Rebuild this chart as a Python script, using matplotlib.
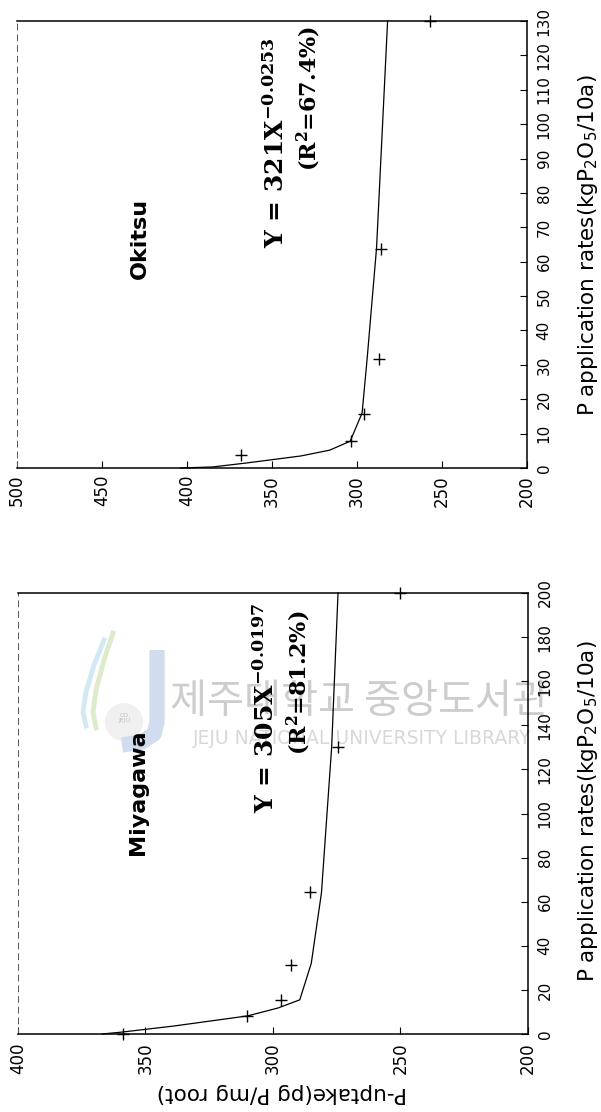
import matplotlib
matplotlib.use("Agg")
import matplotlib.pyplot as plt
from matplotlib.patches import Circle

plt.rcParams['font.family'] = ['DejaVu Sans']

# ---- Okitsu (upper panel) ----
oki_rate = [3.8, 7.8, 15.8, 31.8, 63.7, 130]
oki_uptake = [368, 303.5, 296, 287, 286, 257]
oki_fit_rate = [0, 0.3, 1.4, 3.5, 5.2, 7.8, 16, 32, 64, 130]
oki_fit_uptake = [404, 385, 366, 333, 316, 304, 297, 294, 288.5, 282]
oki_rate_ticks = list(range(0, 131, 10))
oki_uptake_ticks = [500, 450, 400, 350, 300, 250, 200]

# ---- Miyagawa (lower panel) ----
miy_rate = [0, 8.2, 15.4, 31.3, 64.4, 130, 200]
miy_uptake = [359, 310, 297, 293, 285.5, 274.5, 250]
miy_fit_rate = [0, 0.9, 3.6, 8.2, 11.8, 15.5, 32, 64, 130, 200]
miy_fit_uptake = [367, 359, 339, 310, 298, 289.5, 285, 281, 277, 274.5]
miy_rate_ticks = list(range(0, 201, 20))
miy_uptake_ticks = [400, 350, 300, 250, 200]

W, H = 601, 1112
fig = plt.figure(figsize=(W / 100, H / 100), dpi=100)
fig.patch.set_facecolor('white')


def px_axes(x0, y0, x1, y1, **kw):
    return fig.add_axes([x0 / W, 1 - y1 / H, (x1 - x0) / W, (y1 - y0) / H], **kw)


# background layer in pixel coordinates (library watermark)
bg = fig.add_axes([0, 0, 1, 1], zorder=-1)
bg.set_xlim(0, W)
bg.set_ylim(H, 0)
bg.axis('off')
bg.text(360, 702, '제주대학교 중앙도서관', fontsize=29, color='#cdcdcd',
        family=['Noto Sans CJK KR'], ha='center', va='center')
bg.text(362, 738, 'JEJU NATIONAL UNIVERSITY LIBRARY', fontsize=13.5, color='#d8d8d8',
        family=['DejaVu Sans'], ha='center', va='center')
bg.add_patch(Circle((124, 722), 19, color='#f0f0f0', lw=0))
bg.plot([157, 157, 154, 142, 122], [650, 722, 734, 742, 745], color='#cdd9ee',
        lw=11, solid_capstyle='butt', solid_joinstyle='round', alpha=0.9)
bg.plot([113, 104, 96, 93, 96], [633, 660, 690, 712, 728], color='#dcebcc', lw=3.5)
bg.plot([104, 94, 86, 83, 86], [640, 665, 692, 712, 726], color='#d3e8f3', lw=3.5)
bg.text(124, 718, 'CO\nJEJU', fontsize=4.5, color='#c0c0c0', ha='center', va='center',
        linespacing=1.1)


def style_axes(ax, xmax, ymax, rate_ticks, uptake_ticks, xpad):
    ax.set_facecolor('none')
    ax.set_xlim(xmax, 200)
    ax.set_ylim(0, ymax)
    ax.yaxis.tick_right()
    ax.set_yticks(rate_ticks, [str(t) for t in rate_ticks], rotation=90,
                  ha='left', va='center', fontsize=11)
    ax.set_xticks(uptake_ticks, [str(t) for t in uptake_ticks], rotation=90,
                  ha='center', va='top', fontsize=12)
    ax.tick_params(axis='y', direction='in', length=5, width=0.8, pad=7,
                   left=False, right=True)
    ax.tick_params(axis='x', direction='in', length=5, width=0.8, pad=xpad,
                   top=False, bottom=True)
    for side in ('top', 'right', 'bottom'):
        ax.spines[side].set_linewidth(1.1)
    ax.spines['left'].set_linewidth(0.7)
    ax.spines['left'].set_color('#555555')
    ax.spines['left'].set_linestyle((0, (6, 5)))


def draw_panel(ax, fit_rate, fit_uptake, rate, uptake):
    ax.plot(fit_uptake, fit_rate, color='black', lw=0.9, clip_on=False)
    ax.plot(uptake, rate, ls='none', marker='+', ms=9, mew=1.0, color='black',
            clip_on=False)


rate_label = r'P application rates(kgP$_{\mathregular{2}}$O$_{\mathregular{5}}$/10a)'

# upper panel: Okitsu
ax1 = px_axes(17, 21, 527, 468)
style_axes(ax1, 500, 130, oki_rate_ticks, oki_uptake_ticks, 5)
draw_panel(ax1, oki_fit_rate, oki_fit_uptake, oki_rate, oki_uptake)

# lower panel: Miyagawa
ax2 = px_axes(18, 593, 528, 1034)
style_axes(ax2, 400, 200, miy_rate_ticks, miy_uptake_ticks, 6)
draw_panel(ax2, miy_fit_rate, miy_fit_uptake, miy_rate, miy_uptake)

# labels and annotations in pixel coordinates
txt = dict(transform=bg.transData, ha='center', va='center')
serif = dict(family=['DejaVu Serif'], fontweight='bold', math_fontfamily='dejavuserif')

bg.text(588, 245, rate_label, rotation=90, fontsize=15.5, **txt)
bg.text(588, 811, rate_label, rotation=90, fontsize=15.5, **txt)
bg.text(282, 1093, 'P-uptake(pg P/mg root)', rotation=180, fontsize=15.5, **txt)

bg.text(140, 238, 'Okitsu', rotation=90, fontsize=16, fontweight='bold', **txt)
bg.text(138, 792, 'Miyagawa', rotation=90, fontsize=16, fontweight='bold', **txt)

bg.text(276, 143, r'Y = 321X$^{\mathbf{-0.0253}}$', rotation=90, fontsize=18, **serif, **txt)
bg.text(309, 98, r'(R$^{\mathbf{2}}$=67.4%)', rotation=90, fontsize=16, **serif, **txt)
bg.text(266, 708, r'Y = 305X$^{\mathbf{-0.0197}}$', rotation=90, fontsize=18, **serif, **txt)
bg.text(299, 683, r'(R$^{\mathbf{2}}$=81.2%)', rotation=90, fontsize=16, **serif, **txt)

fig.savefig('out.png', dpi=100)
